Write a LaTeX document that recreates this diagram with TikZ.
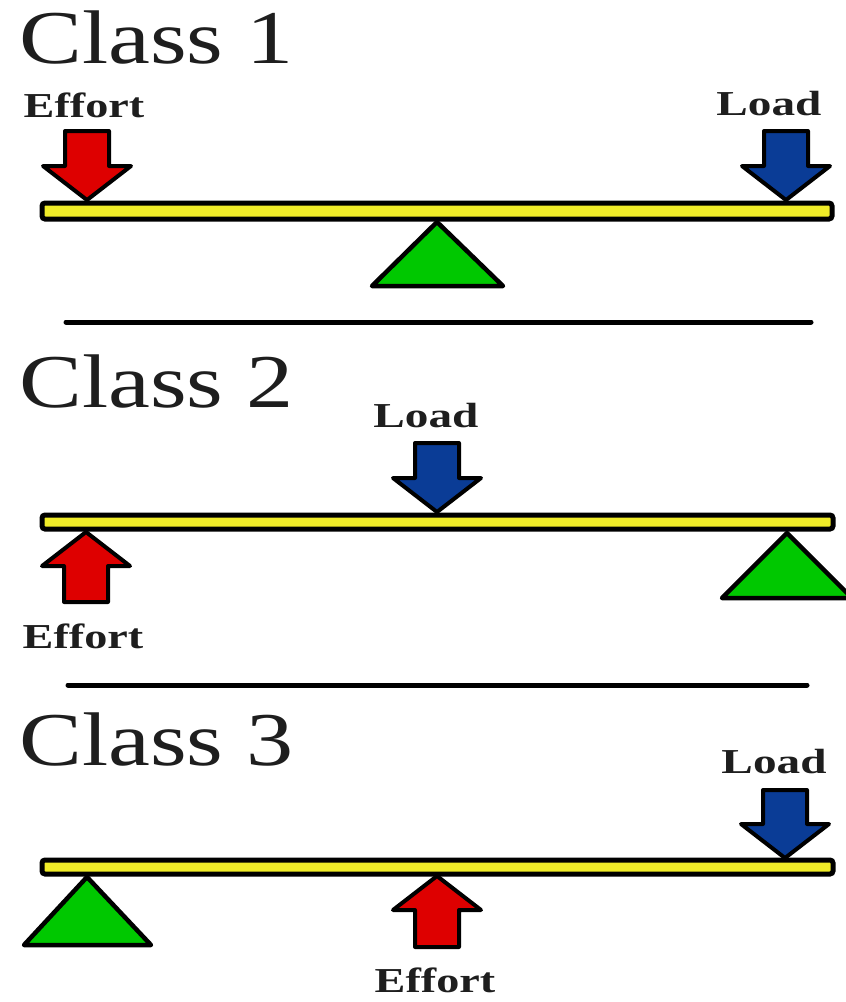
\documentclass[tikz,border=0pt]{standalone}
\usepackage{fontspec}
\setmainfont{Liberation Serif}
\definecolor{effred}{RGB}{222,0,0}
\definecolor{loadblue}{RGB}{10,60,150}
\definecolor{fulgreen}{RGB}{0,200,0}
\definecolor{beamyel}{RGB}{240,236,40}
\definecolor{txtgray}{RGB}{30,30,30}
\tikzset{
  beam/.style={draw=black,fill=beamyel,line width=5,rounded corners=3},
  fulcrum/.style={draw=black,fill=fulgreen,line width=4.5,line join=round},
  force/.style={draw=black,line width=4,line join=round},
  sep/.style={draw=black,line width=5,line cap=round},
  title/.style={inner sep=0,anchor=base west,text=txtgray,font=\fontsize{76}{76}\selectfont},
  lbl/.style={inner sep=0,anchor=base,text=txtgray,font=\fontsize{35}{35}\selectfont\bfseries},
}
% down arrow: tip (#2,#3), length #4
\newcommand\DownArr[4]{%
  \draw[force,fill=#1] (#2,#3) -- ++(-44,-34) -- ++(22,0) -- ++(0,-#4+34) -- ++(44,0) -- ++(0,#4-34) -- ++(22,0) -- cycle;}
\newcommand\UpArr[4]{%
  \draw[force,fill=#1] (#2,#3) -- ++(-44,34) -- ++(22,0) -- ++(0,#4-34) -- ++(44,0) -- ++(0,-#4+34) -- ++(22,0) -- cycle;}
\begin{document}
\begin{tikzpicture}[x=1pt,y=-1pt]
\useasboundingbox (0,0) rectangle (846,1002);
% ---------- Class 1
\node[title] (t1) at (19,63) {\scalebox{1.24}[1]{Class 1}};
\node[lbl] (e1) at (84,117) {\scalebox{1.32}[1]{Effort}};
\node[lbl] (l1) at (769,115) {\scalebox{1.35}[1]{Load}};
\DownArr{effred}{87}{200}{69}
\DownArr{loadblue}{786}{200}{69}
\draw[beam] (42,203) rectangle (832,219);
\draw[fulcrum] (437,222) -- (503,286) -- (372,286) -- cycle;
\draw[sep] (66,322) -- (811,322);
% ---------- Class 2
\node[title] (t2) at (19,407) {\scalebox{1.24}[1]{Class 2}};
\node[lbl] (l2) at (426,427) {\scalebox{1.35}[1]{Load}};
\node[lbl] (e2) at (83,648) {\scalebox{1.32}[1]{Effort}};
\DownArr{loadblue}{437}{512}{69}
\UpArr{effred}{86}{532}{70}
\draw[beam] (42,515) rectangle (833,529);
\draw[fulcrum] (787,533) -- (852,598) -- (722,598) -- cycle;
\draw[sep] (68,685) -- (807,685);
% ---------- Class 3
\node[title] (t3) at (19,765) {\scalebox{1.24}[1]{Class 3}};
\node[lbl] (l3) at (774,773) {\scalebox{1.35}[1]{Load}};
\node[lbl] (e3) at (435,992) {\scalebox{1.32}[1]{Effort}};
\DownArr{loadblue}{785}{858}{68}
\UpArr{effred}{437}{876}{71}
\draw[beam] (42,860) rectangle (833,874);
\draw[fulcrum] (87,877) -- (151,945) -- (24,945) -- cycle;
\end{tikzpicture}
\end{document}
